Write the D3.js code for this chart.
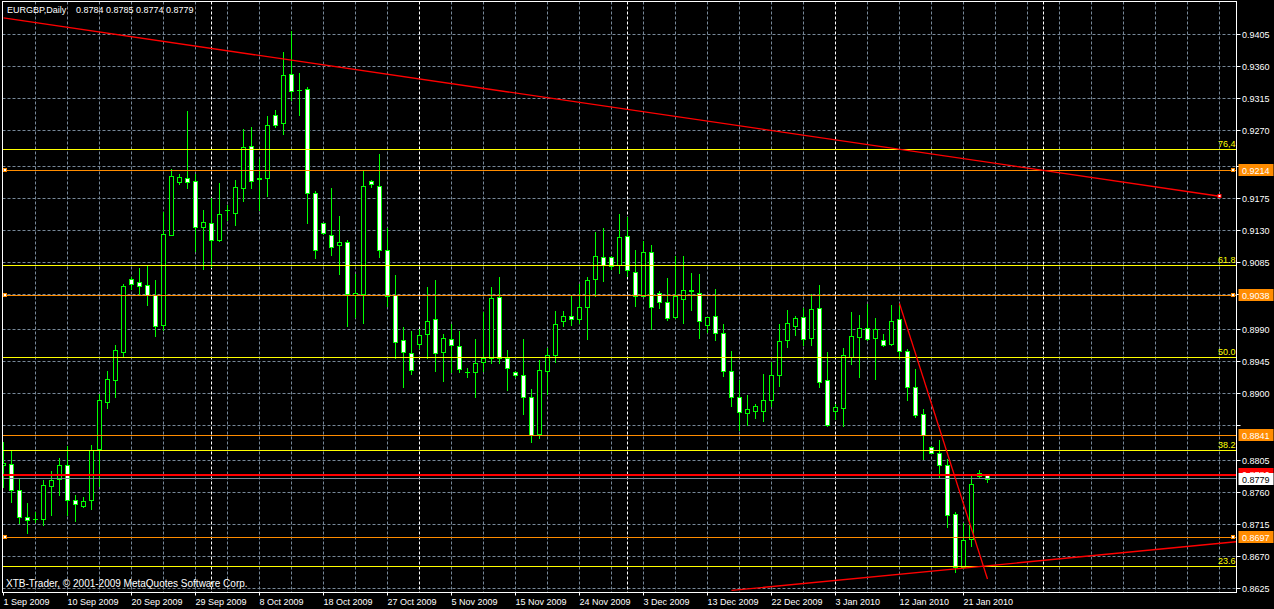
<!DOCTYPE html>
<html><head><meta charset="utf-8">
<script src="https://cdn.jsdelivr.net/npm/d3@7"></script>
<style>
html,body{margin:0;padding:0;background:#000;overflow:hidden}
svg{display:block}
text{font-family:"Liberation Sans",Arial,sans-serif}
</style>
</head><body>
<svg id="c" width="1274" height="609"></svg>
<script>
const symbolTitle = "EURGBP,Daily";
const lastQuote = ["0.8784", "0.8785", "0.8774", "0.8779"];
const copyright = "XTB-Trader, \u00A9 2001-2009 MetaQuotes Software Corp.";

const open = [.8799,.8800,.8764,.8726,.8722,.8723,.8769,.8779,.8798,.8750,
.8741,.8749,.8821,.8888,.8918,.8958,.9060,.9056,.9052,.9038,
.8996,.9123,.9197,.9202,.9198,.9134,.9139,.9115,.9157,.9154,
.9188,.9248,.9201,.9202,.9291,.9280,.9349,.9326,.9328,.9181,
.9139,.9123,.9108,.9112,.9038,.9039,.9199,.9192,.9102,.9038,
.8974,.8956,.8969,.8983,.9004,.8958,.8976,.8966,.8930,.8929,
.8943,.8949,.9035,.8949,.8929,.8925,.8894,.8842,.8931,.8954,
.9001,.9009,.9004,.9021,.9060,.9092,.9092,.9080,.9121,.9071,
.9037,.9099,.9041,.9028,.9007,.9033,.9044,.9041,.8996,.9008,
.8985,.8931,.8895,.8872,.8874,.8874,.8890,.8925,.8974,.8995,
.9007,.8978,.9019,.8918,.8874,.8879,.8951,.8979,.8992,.8978,
.8974,.8969,.9004,.8959,.8908,.8870,.8824,.8816,.8798,.8729,
.8655,.8694,.8788,.8784];
const high = [.8831,.8818,.8780,.8745,.8732,.8777,.8790,.8808,.8825,.8756,
.8754,.8827,.8899,.8931,.8968,.9054,.9063,.9076,.9080,.9059,
.9155,.9215,.9209,.9297,.9208,.9158,.9174,.9196,.9165,.9200,
.9272,.9274,.9230,.9290,.9298,.9380,.9410,.9351,.9331,.9184,
.9140,.9189,.9149,.9115,.9068,.9214,.9200,.9237,.9132,.9066,
.8993,.8987,.8990,.9049,.9059,.8983,.8997,.8987,.8935,.8976,
.9014,.9049,.9063,.8961,.8931,.8976,.8906,.8947,.8963,.9015,
.9015,.9038,.9054,.9063,.9127,.9132,.9093,.9152,.9148,.9102,
.9114,.9108,.9044,.9062,.9093,.9093,.9069,.9067,.9007,.9046,
.8997,.8959,.8918,.8897,.8884,.8927,.8944,.8997,.9017,.9009,
.9019,.9040,.9052,.8958,.8884,.8963,.9014,.9010,.9025,.9006,
.8983,.9024,.9025,.8962,.8934,.8877,.8825,.8834,.8807,.8732,
.8717,.8785,.8791,.8785];
const low = [.8768,.8747,.8717,.8703,.8719,.8714,.8728,.8756,.8728,.8720,
.8740,.8737,.8769,.8879,.8895,.8951,.9046,.9038,.9024,.8980,
.8988,.9122,.9194,.9189,.9100,.9075,.9078,.9114,.9144,.9136,
.9170,.9188,.9157,.9178,.9275,.9264,.9312,.9291,.9140,.9090,
.9124,.9094,.9067,.8994,.9007,.8999,.9190,.9092,.9022,.8949,
.8909,.8927,.8964,.8949,.8931,.8917,.8929,.8929,.8923,.8895,
.8931,.8942,.8942,.8904,.8923,.8870,.8831,.8836,.8898,.8944,
.8995,.8996,.8998,.8976,.9036,.9058,.9075,.9069,.9064,.9022,
.9036,.8990,.9020,.9003,.9006,.8999,.9017,.8978,.8986,.8975,
.8924,.8881,.8848,.8855,.8865,.8860,.8881,.8910,.8965,.8982,
.8968,.8968,.8909,.8853,.8864,.8853,.8941,.8923,.8975,.8920,
.8966,.8967,.8949,.8890,.8866,.8807,.8815,.8782,.8711,.8648,
.8653,.8685,.8782,.8774];
const close = [.8801,.8764,.8726,.8721,.8722,.8770,.8778,.8798,.8750,.8743,
.8748,.8820,.8890,.8919,.8960,.9050,.9054,.9050,.9038,.8995,
.9124,.9206,.9204,.9197,.9133,.9141,.9116,.9152,.9158,.9190,
.9247,.9199,.9202,.9277,.9278,.9347,.9325,.9327,.9181,.9102,
.9125,.9106,.9112,.9039,.9041,.9191,.9194,.9102,.9037,.8972,
.8957,.8933,.8981,.9002,.8956,.8978,.8967,.8934,.8929,.8942,
.8949,.9034,.8949,.8935,.8925,.8894,.8841,.8932,.8953,.8997,
.9008,.9004,.9021,.9059,.9093,.9080,.9079,.9119,.9073,.9037,
.9099,.9021,.9028,.9006,.9036,.9045,.9045,.9002,.9007,.8984,
.8931,.8894,.8873,.8877,.8881,.8890,.8925,.8973,.8998,.9005,
.8976,.9018,.8916,.8855,.8880,.8953,.8980,.8991,.8976,.8990,
.8968,.9002,.8959,.8909,.8869,.8841,.8815,.8798,.8728,.8655,
.8693,.8772,.8783,.8779];

const dateTickIndex = [0, 8, 16, 24, 32, 40, 48, 56, 64, 72, 80, 88, 96, 104, 112, 120];
const dateTickLabels = ["1 Sep 2009", "10 Sep 2009", "20 Sep 2009", "29 Sep 2009", "8 Oct 2009",
  "18 Oct 2009", "27 Oct 2009", "5 Nov 2009", "15 Nov 2009", "24 Nov 2009", "3 Dec 2009",
  "13 Dec 2009", "22 Dec 2009", "3 Jan 2010", "12 Jan 2010", "21 Jan 2010"];
const priceTicks = [0.9405, 0.9360, 0.9315, 0.9270, 0.9220, 0.9175, 0.9130, 0.9085, 0.9040,
  0.8990, 0.8945, 0.8900, 0.8855, 0.8805, 0.8760, 0.8715, 0.8670, 0.8625];
const separatorIndex = [26, 52, 78, 104, 130];
const fibLevels = [0.8656, 0.8820, 0.8950, 0.9080, 0.9243];
const fibLabels = ["23.6", "38.2", "50.0", "61.8", "76,4"];
const hLevels = [0.9214, 0.9038, 0.8841, 0.8697];
const hLevelMarkers = [true, true, false, true];
const redLevel = 0.8786;
const bidPrice = 0.8779;
const trendLines = [
  {pts: [[0, 0.9428], [152, 0.9177]], marker: true},
  {pts: [[91, 0.8622], [160, 0.8697]], marker: false},
  {pts: [[112, 0.9026], [123, 0.8638]], marker: false}
];

const W = 1274, H = 609;
const plot = {left: 2.5, right: 1236.5, top: 1.5, bottom: 592.5};
const x = d3.scaleLinear().domain([0, 154]).range([3.5, 3.5 + 8 * 154]);
const y = d3.scaleLinear().domain([0.8625, 0.9405]).range([588.3, 34.3]);
const py = v => Math.round(y(v)) + 0.5;

const LIME = "#00ff00", GRID = "#778899", ORANGE = "#ff8c00", YEL = "#ffff00", RED = "#ff0000";

const svg = d3.select("#c");
svg.append("rect").attr("width", W).attr("height", H).attr("fill", "#000");
const defs = svg.append("defs");
defs.append("clipPath").attr("id", "pc").append("rect")
  .attr("x", plot.left + 0.5).attr("y", plot.top + 0.5)
  .attr("width", plot.right - plot.left - 1).attr("height", plot.bottom - plot.top - 1);

const g = svg.append("g").attr("clip-path", "url(#pc)");

// horizontal grid
g.selectAll("line.hg").data(priceTicks).join("line")
  .attr("x1", plot.left).attr("x2", plot.right)
  .attr("y1", d => py(d)).attr("y2", d => py(d))
  .attr("stroke", GRID).attr("stroke-dasharray", "3,2");
// vertical grid
const vIdx = d3.range(4, 155, 4).filter(i => !separatorIndex.includes(i));
g.selectAll("line.vg").data(vIdx).join("line")
  .attr("x1", d => x(d)).attr("x2", d => x(d))
  .attr("y1", plot.top).attr("y2", plot.bottom)
  .attr("stroke", GRID).attr("stroke-dasharray", "3,2");
g.selectAll("line.sep").data(separatorIndex).join("line")
  .attr("x1", d => x(d)).attr("x2", d => x(d))
  .attr("y1", plot.top).attr("y2", plot.bottom)
  .attr("stroke", "#fff").attr("stroke-dasharray", "3,2");

// candles
const candles = open.map((o, i) => ({i, o, h: high[i], l: low[i], c: close[i]}));
const cg = g.append("g");
cg.selectAll("line.wick").data(candles).join("line")
  .attr("x1", d => x(d.i)).attr("x2", d => x(d.i))
  .attr("y1", d => Math.round(y(d.h))).attr("y2", d => Math.round(y(d.l)) + 1)
  .attr("stroke", LIME);
cg.selectAll("rect.body").data(candles).join("rect")
  .attr("x", d => x(d.i) - 2).attr("width", 4)
  .attr("y", d => py(Math.max(d.o, d.c)))
  .attr("height", d => Math.max(py(Math.min(d.o, d.c)) - py(Math.max(d.o, d.c)), 0.01))
  .attr("fill", d => d.c < d.o ? "#fff" : "#000")
  .attr("stroke", LIME);

// fib levels
g.selectAll("line.fib").data(fibLevels).join("line")
  .attr("x1", plot.left).attr("x2", plot.right)
  .attr("y1", d => py(d)).attr("y2", d => py(d)).attr("stroke", YEL);
svg.selectAll("text.fib").data(fibLevels).join("text")
  .attr("x", plot.right - 1).attr("y", d => py(d) - 2.5)
  .attr("text-anchor", "end").attr("fill", YEL).attr("font-size", 9)
  .text((d, i) => fibLabels[i]);

// horizontal levels
g.selectAll("line.hl").data(hLevels).join("line")
  .attr("x1", plot.left).attr("x2", plot.right)
  .attr("y1", d => py(d)).attr("y2", d => py(d)).attr("stroke", ORANGE);
const mk = [];
hLevels.forEach((v, i) => { if (hLevelMarkers[i]) { mk.push([3.5, v]); mk.push([1231.5, v]); } });
svg.selectAll("rect.mk").data(mk).join("rect")
  .attr("x", d => d[0]).attr("y", d => py(d[1]) - 2).attr("width", 3).attr("height", 3)
  .attr("fill", "#fff").attr("stroke", ORANGE);

// red level and bid line
g.append("line").attr("x1", plot.left).attr("x2", plot.right)
  .attr("y1", Math.round(y(redLevel)) + 1).attr("y2", Math.round(y(redLevel)) + 1)
  .attr("stroke", RED).attr("stroke-width", 2);
g.append("line").attr("x1", plot.left).attr("x2", plot.right)
  .attr("y1", py(bidPrice) - 1).attr("y2", py(bidPrice) - 1).attr("stroke", GRID);

// trend lines
const line = d3.line().x(d => x(d[0])).y(d => y(d[1]));
g.selectAll("path.tl").data(trendLines).join("path")
  .attr("d", d => line(d.pts)).attr("fill", "none").attr("stroke", RED).attr("stroke-width", 1.3);
trendLines.filter(t => t.marker).forEach(t => {
  const p = t.pts[1];
  svg.append("rect").attr("x", x(p[0]) - 1.5).attr("y", Math.round(y(p[1])) - 1.5)
    .attr("width", 3).attr("height", 3).attr("fill", "#fff").attr("stroke", RED);
});

// frame
svg.append("rect").attr("x", plot.left).attr("y", plot.top)
  .attr("width", plot.right - plot.left).attr("height", plot.bottom - plot.top)
  .attr("fill", "none").attr("stroke", "#fff");

// price axis (labels hidden behind level boxes are not drawn)
const boxLevels = hLevels.concat([bidPrice, redLevel]);
const freeTicks = priceTicks.filter(t => boxLevels.every(b => Math.abs(y(t) - y(b)) > 10));
svg.selectAll("line.pt").data(priceTicks).join("line")
  .attr("x1", plot.right).attr("x2", plot.right + 4)
  .attr("y1", d => py(d)).attr("y2", d => py(d)).attr("stroke", "#fff");
svg.selectAll("text.pt").data(freeTicks).join("text")
  .attr("x", 1242).attr("y", d => py(d) + 3.5)
  .attr("fill", "#fff").attr("font-size", 9)
  .text(d => d.toFixed(4));

// price label boxes
function box(v, bg, fg, clipBottom) {
  const yy = Math.round(y(v));
  const grp = svg.append("g");
  if (clipBottom !== undefined) {
    const id = "cb" + Math.round(v * 10000);
    defs.append("clipPath").attr("id", id).append("rect")
      .attr("x", 1230).attr("y", yy - 8).attr("width", 50).attr("height", clipBottom - (yy - 8));
    grp.attr("clip-path", "url(#" + id + ")");
  }
  grp.append("rect").attr("x", 1238.5).attr("y", yy - 6).attr("width", 35).attr("height", 12).attr("fill", bg);
  grp.append("text").attr("x", 1242).attr("y", yy + 3.5).attr("fill", fg).attr("font-size", 9).text(v.toFixed(4));
  return yy;
}
const bidY = Math.round(y(bidPrice));
box(redLevel, RED, "#fff", bidY - 6);
hLevels.forEach(v => box(v, ORANGE, "#fff"));
box(bidPrice, "#fff", "#000");

// date axis
svg.selectAll("line.dt").data(dateTickIndex).join("line")
  .attr("x1", d => x(d)).attr("x2", d => x(d))
  .attr("y1", plot.bottom).attr("y2", plot.bottom + 3).attr("stroke", "#fff");
svg.selectAll("text.dt").data(dateTickIndex).join("text")
  .attr("x", d => x(d)).attr("y", 604.5)
  .attr("fill", "#fff").attr("font-size", 9)
  .text((d, i) => dateTickLabels[i]);

// title and copyright
svg.append("text").attr("x", 7).attr("y", 13.3).attr("fill", "#fff").attr("font-size", 9).text(symbolTitle);
svg.append("text").attr("x", 76).attr("y", 13.3).attr("fill", "#fff").attr("font-size", 9).text(lastQuote.join(" "));
svg.append("text").attr("x", 6).attr("y", 586.7).attr("fill", "#fff").attr("font-size", 10).text(copyright);
</script>
</body></html>
